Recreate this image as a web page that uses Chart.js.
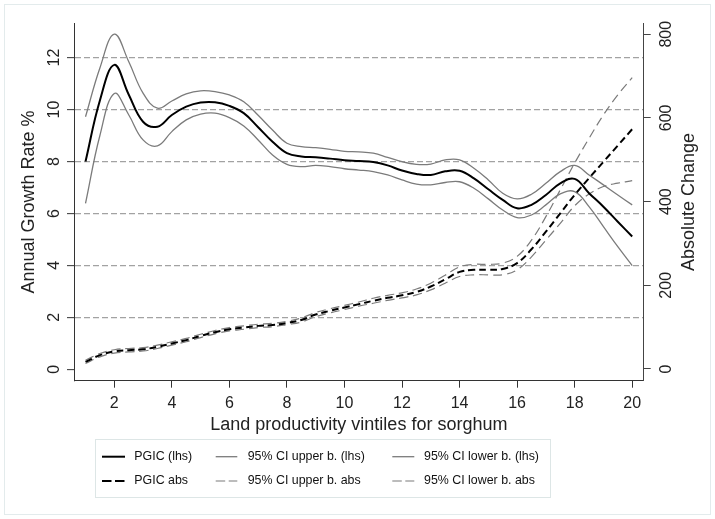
<!DOCTYPE html>
<html>
<head>
<meta charset="utf-8">
<script src="https://cdn.jsdelivr.net/npm/chart.js@4.4.1/dist/chart.umd.min.js"></script>
<style>
  html, body { margin: 0; padding: 0; background: #ffffff; }
  #wrap { width: 715px; height: 519px; position: relative; }
</style>
</head>
<body>
<div id="wrap"><canvas id="chart"></canvas></div>
<script>
// Land productivity vintiles (smoothed curves evaluated every half vintile)
const vintiles = [1, 1.5, 2, 2.5, 3, 3.5, 4, 4.5, 5, 5.5, 6, 6.5, 7, 7.5, 8, 8.5, 9, 9.5, 10, 10.5,
                  11, 11.5, 12, 12.5, 13, 13.5, 14, 14.5, 15, 15.5, 16, 16.5, 17, 17.5, 18, 18.5, 19, 19.5, 20];

// Annual growth rate % (left axis)
const pgicRate = [8.0, 10.35, 11.72, 10.58, 9.53, 9.34, 9.79, 10.11, 10.27, 10.28, 10.14, 9.86, 9.32, 8.76, 8.32, 8.19, 8.16, 8.11, 8.05, 8.02,
                  7.98, 7.85, 7.65, 7.52, 7.48, 7.62, 7.64, 7.35, 6.93, 6.52, 6.2, 6.33, 6.71, 7.16, 7.33, 6.78, 6.26, 5.68, 5.11];
const ciUpperRate = [9.72, 11.6, 12.9, 11.85, 10.63, 10.05, 10.33, 10.6, 10.72, 10.69, 10.56, 10.3, 9.78, 9.21, 8.7, 8.57, 8.53, 8.47, 8.39, 8.37,
                     8.32, 8.16, 7.99, 7.89, 7.9, 8.06, 8.06, 7.74, 7.29, 6.78, 6.56, 6.74, 7.16, 7.61, 7.85, 7.48, 7.1, 6.71, 6.33];
const ciLowerRate = [6.39, 9.0, 10.62, 9.8, 8.83, 8.6, 9.15, 9.6, 9.82, 9.86, 9.69, 9.37, 8.83, 8.25, 7.89, 7.8, 7.85, 7.8, 7.72, 7.67,
                     7.61, 7.48, 7.29, 7.13, 7.1, 7.19, 7.22, 6.97, 6.56, 6.13, 5.84, 5.94, 6.33, 6.75, 6.84, 6.26, 5.49, 4.72, 3.99];

// Absolute change (right axis)
const pgicAbs = [17, 33, 42, 45, 47, 53, 61, 69, 79, 88, 95, 99, 103, 105, 110, 117, 130, 139, 147, 155,
                 163, 170, 176, 184, 197, 214, 232, 237, 237, 239, 253, 286, 328, 372, 416, 456, 495, 534, 573];
const ciUpperAbs = [21, 37, 46, 49, 51, 57, 65, 73, 83, 92, 99, 103, 107, 109, 114, 122, 135, 144, 152, 160,
                    169, 176, 182, 191, 205, 224, 244, 250, 250, 253, 269, 308, 364, 428, 492, 551, 607, 655, 696];
const ciLowerAbs = [13, 29, 38, 41, 43, 49, 57, 65, 75, 84, 91, 95, 99, 101, 106, 112, 125, 134, 142, 150,
                    157, 164, 170, 177, 189, 205, 221, 225, 225, 225, 237, 268, 308, 348, 390, 418, 436, 444, 450];

// Tick labels
const xTickValues = [2, 4, 6, 8, 10, 12, 14, 16, 18, 20];
const rateTickValues = [0, 2, 4, 6, 8, 10, 12];
const absTickValues = [0, 200, 400, 600, 800];

const seriesLabels = ['PGIC (lhs)', '95% CI upper b. (lhs)', '95% CI lower b. (lhs)',
                      'PGIC abs', '95% CI upper b. abs', '95% CI lower b. abs'];

const FONT = 'Liberation Sans, Arial, Helvetica, sans-serif';
const GREY = '#7b7b7b';

const toPoints = arr => vintiles.map((x, i) => ({ x: x, y: arr[i] }));
const fixTicks = values => scale => { scale.ticks = values.map(v => ({ value: v })); };

function series(label, values, axis, color, width, dash, order) {
  return {
    label: label,
    data: toPoints(values),
    yAxisID: axis,
    borderColor: color,
    borderWidth: width,
    borderDash: dash,
    pointRadius: 0,
    tension: 0.4,
    fill: false,
    order: order
  };
}

// White page with a faint frame round the whole graph
const framePlugin = {
  id: 'frame',
  beforeDraw(chart) {
    const ctx = chart.ctx;
    ctx.save();
    ctx.fillStyle = '#ffffff';
    ctx.fillRect(0, 0, chart.width, chart.height);
    ctx.strokeStyle = '#e3ebec';
    ctx.lineWidth = 1;
    ctx.strokeRect(4.5, 4.5, chart.width - 9, chart.height - 9);
    ctx.restore();
  }
};

// Right-hand axis caption, read bottom to top like the left one
const rightCaptionPlugin = {
  id: 'rightCaption',
  afterDraw(chart, args, opts) {
    const ctx = chart.ctx;
    const area = chart.chartArea;
    ctx.save();
    ctx.translate(opts.x, (area.top + area.bottom) / 2);
    ctx.rotate(-Math.PI / 2);
    ctx.font = opts.size + 'px ' + FONT;
    ctx.fillStyle = opts.color;
    ctx.textAlign = 'center';
    ctx.textBaseline = 'middle';
    ctx.fillText(opts.text, 0, 0);
    ctx.restore();
  }
};

// Boxed legend in three columns below the x-axis title
const gridLegendPlugin = {
  id: 'gridLegend',
  afterDraw(chart, args, opts) {
    const ctx = chart.ctx;
    const b = opts.box;
    ctx.save();
    ctx.strokeStyle = '#dde6e6';
    ctx.lineWidth = 1;
    ctx.strokeRect(b.x, b.y, b.w, b.h);
    ctx.font = opts.size + 'px ' + FONT;
    ctx.textBaseline = 'middle';
    ctx.textAlign = 'left';
    chart.data.datasets.forEach((ds, i) => {
      const col = i % 3, row = Math.floor(i / 3);
      const y = opts.rows[row];
      const c = opts.cols[col];
      ctx.beginPath();
      ctx.strokeStyle = ds.borderColor;
      ctx.lineWidth = ds.borderWidth;
      ctx.setLineDash(ds.borderDash && ds.borderDash.length ? opts.sampleDash : []);
      ctx.moveTo(c.x0, y);
      ctx.lineTo(c.x1, y);
      ctx.stroke();
      ctx.setLineDash([]);
      ctx.fillStyle = '#111111';
      ctx.fillText(ds.label, c.tx, y);
    });
    ctx.restore();
  }
};

const chart = new Chart(document.getElementById('chart'), {
  type: 'line',
  data: {
    datasets: [
      series(seriesLabels[0], pgicRate, 'yRate', '#000000', 2, [], 0),
      series(seriesLabels[1], ciUpperRate, 'yRate', GREY, 1.3, [], 2),
      series(seriesLabels[2], ciLowerRate, 'yRate', GREY, 1.3, [], 2),
      series(seriesLabels[3], pgicAbs, 'yAbs', '#000000', 2, [7, 4], 1),
      series(seriesLabels[4], ciUpperAbs, 'yAbs', GREY, 1.2, [9, 5], 3),
      series(seriesLabels[5], ciLowerAbs, 'yAbs', GREY, 1.2, [9, 5], 3)
    ]
  },
  options: {
    responsive: true,
    maintainAspectRatio: false,
    animation: false,
    devicePixelRatio: 1,
    layout: { padding: { left: 0, right: 0, top: 23.3, bottom: 80 } },
    plugins: {
      legend: { display: false },
      tooltip: { enabled: false },
      rightCaption: { text: 'Absolute Change', x: 689, size: 18, color: '#222222' },
      gridLegend: {
        size: 12.4,
        box: { x: 95.5, y: 439.5, w: 455, h: 58 },
        rows: [456.7, 481],
        cols: [
          { x0: 102, x1: 125, tx: 134.3 },
          { x0: 215.7, x1: 237.3, tx: 247.7 },
          { x0: 392.3, x1: 414.3, tx: 424 }
        ],
        sampleDash: [9.5, 3.5]
      }
    },
    scales: {
      x: {
        type: 'linear',
        position: 'bottom',
        min: 0.6,
        max: 20.4,
        afterBuildTicks: fixTicks(xTickValues),
        afterFit: s => { s.height = 58.3; },
        grid: { drawOnChartArea: false, drawTicks: true, tickLength: 7, tickColor: '#333333', tickWidth: 1 },
        border: { display: true, color: '#333333', width: 1 },
        ticks: { font: { family: FONT, size: 16 }, color: '#222222', padding: 6, minRotation: 0, maxRotation: 0, autoSkip: false },
        title: { display: true, text: 'Land productivity vintiles for sorghum', font: { family: FONT, size: 18 }, color: '#222222', padding: { top: 0, bottom: 3 } }
      },
      yRate: {
        type: 'linear',
        position: 'left',
        min: -0.44,
        max: 13.32,
        afterBuildTicks: fixTicks(rateTickValues),
        afterFit: s => { s.width = 74; },
        grid: {
          drawOnChartArea: true,
          color: c => (c.tick && c.tick.value === 0) ? 'rgba(0,0,0,0)' : '#a2a2a2',
          lineWidth: 1.3,
          tickLength: 7,
          tickColor: '#333333',
          tickWidth: 1,
          tickBorderDash: []
        },
        border: { display: true, color: '#333333', width: 1, dash: [6, 3] },
        ticks: { font: { family: FONT, size: 16 }, color: '#222222', padding: 4, minRotation: 90, maxRotation: 90, crossAlign: 'center', autoSkip: false },
        title: { display: true, text: 'Annual Growth Rate %', font: { family: FONT, size: 18 }, color: '#222222', padding: { top: 18, bottom: 0 } }
      },
      yAbs: {
        type: 'linear',
        position: 'right',
        min: -28,
        max: 826,
        afterBuildTicks: fixTicks(absTickValues),
        afterFit: s => { s.width = 71.3; },
        grid: { drawOnChartArea: false, drawTicks: true, tickLength: 7, tickColor: '#444444', tickWidth: 1 },
        border: { display: true, color: '#444444', width: 1 },
        ticks: { font: { family: FONT, size: 16 }, color: '#222222', padding: 2.7, minRotation: 90, maxRotation: 90, crossAlign: 'center', autoSkip: false },
        title: { display: false }
      }
    }
  },
  plugins: [framePlugin, rightCaptionPlugin, gridLegendPlugin]
});
</script>
</body>
</html>
